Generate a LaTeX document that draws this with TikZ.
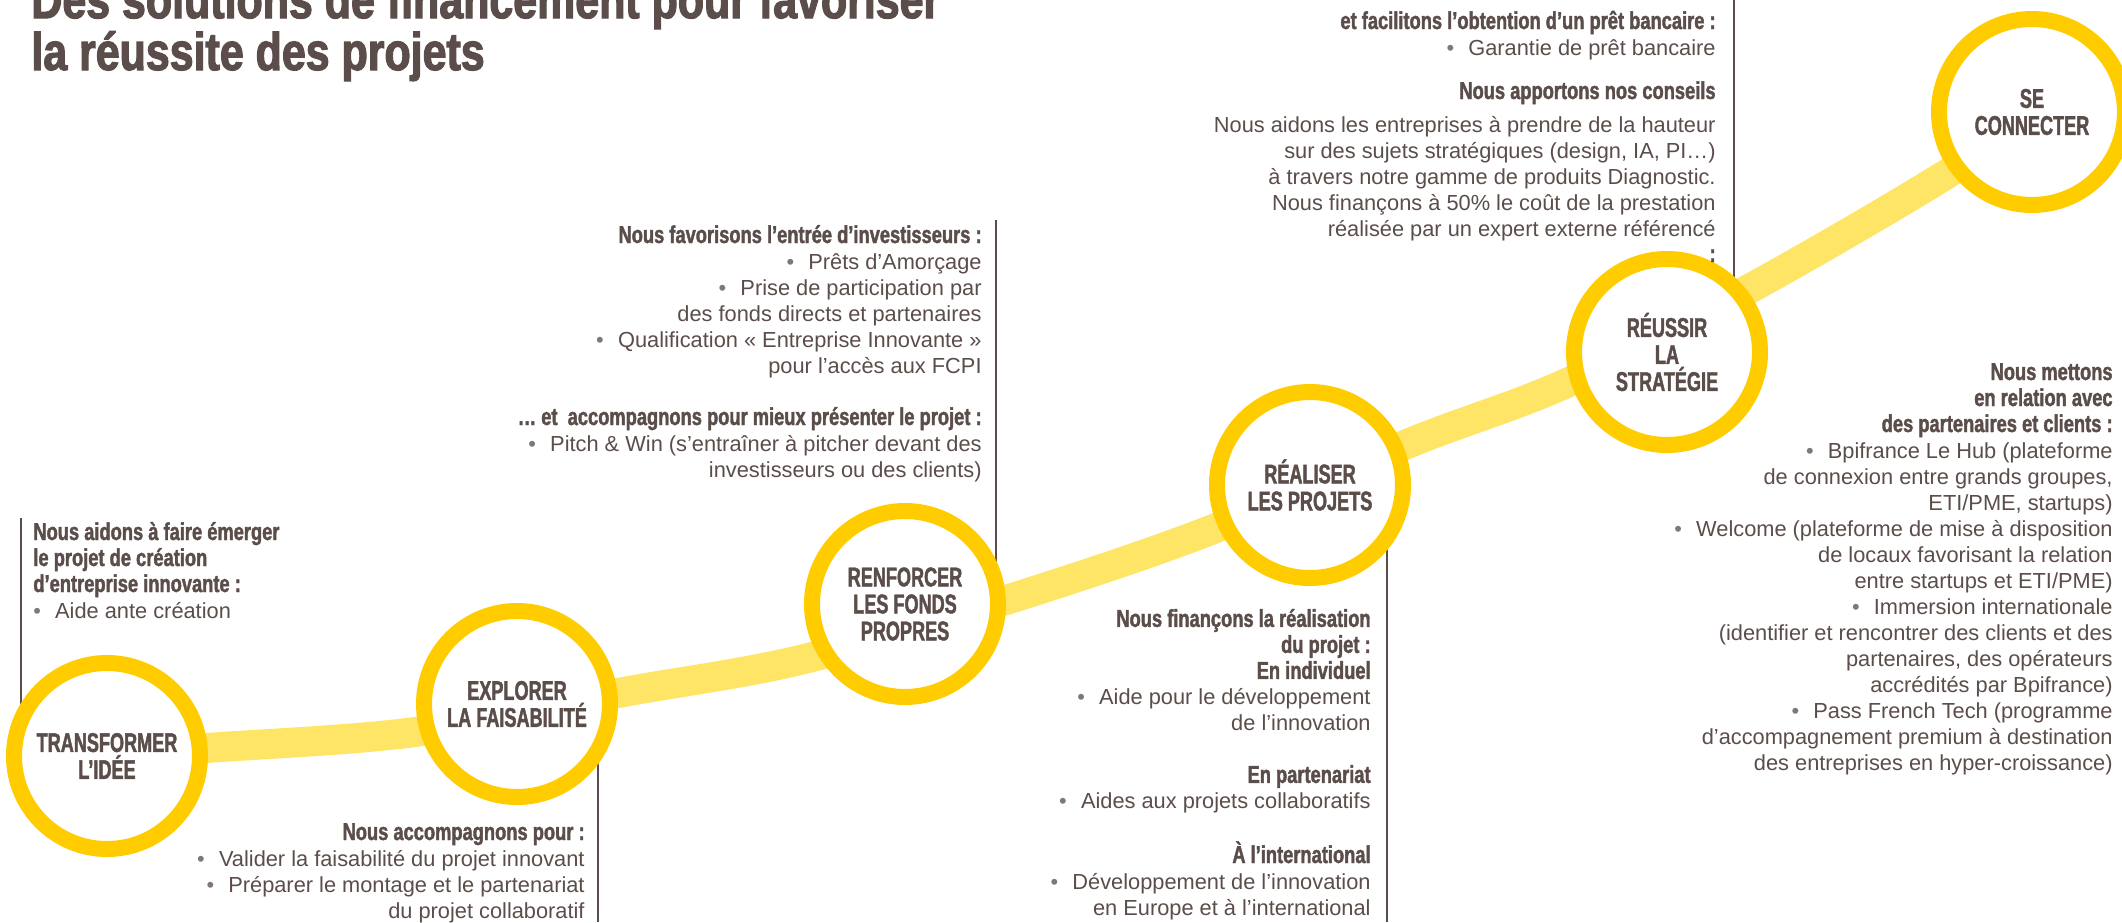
\documentclass[tikz,border=0pt]{standalone}
\usepackage{fontspec}
\setmainfont{Liberation Sans}
\newfontfamily\hdfam[FakeStretch=0.75,FakeBold=1.6]{Liberation Sans}
\newfontfamily\cirfam[FakeStretch=0.67,FakeBold=1.6]{Liberation Sans}
\newfontfamily\ttlfam[FakeStretch=0.81,FakeBold=2.2]{Liberation Sans}
\usetikzlibrary{backgrounds}
\definecolor{ringyellow}{HTML}{FFCC00}
\definecolor{roadyellow}{HTML}{FFE566}
\definecolor{txt}{HTML}{5B4E4A}
\definecolor{bulgray}{HTML}{817876}
\newcommand\hd{\hdfam\bfseries\fontsize{12.2}{13}\selectfont}
\newcommand\bd{\rmfamily\mdseries\fontsize{10.9}{13}\selectfont}
\newcommand\cirf{\cirfam\bfseries\fontsize{13.5}{13.5}\selectfont}
\newcommand\ttlf{\ttlfam\bfseries\fontsize{26.5}{24}\selectfont}
\newcommand\bul{{\color{bulgray}\textbullet}\hspace{0.65em}}
\tikzset{
  stage/.style={circle, draw=ringyellow, line width=8pt, fill=white,
    minimum size=93pt, inner sep=0pt, align=center, font=\cirf, text=txt},
  blockr/.style={anchor=base east, align=right, inner sep=0pt, font=\bd, text=txt},
  blockl/.style={anchor=base west, align=left, inner sep=0pt, font=\bd, text=txt},
  road/.style={draw=roadyellow, line width=15pt},
  rule/.style={draw=txt, line width=0.9pt},
  titletext/.style={anchor=base west, align=left, inner sep=0pt, font=\ttlf, text=txt}
}
\begin{document}
\begin{tikzpicture}[x=0.5pt,y=-0.5pt]
\useasboundingbox (0,0) rectangle (2122,922);
% stages
\node[stage] (t) at (107,756) {TRANSFORMER\\L’IDÉE};
\node[stage] (e) at (517,704) {EXPLORER\\LA FAISABILITÉ};
\node[stage] (r) at (905,604) {RENFORCER\\LES FONDS\\PROPRES};
\node[stage] (p) at (1310,485) {RÉALISER\\LES PROJETS};
\node[stage] (u) at (1667,352) {RÉUSSIR\\LA\\STRATÉGIE};
\node[stage] (s) at (2032,112) {SE\\CONNECTER};
% road waypoints and rule ends
\coordinate (w1) at (207,748);
\coordinate (w2) at (415,732);
\coordinate (w3) at (618,693);
\coordinate (w4) at (800,660);
\coordinate (w5) at (1006,600);
\coordinate (w6) at (1211,530);
\coordinate (w7) at (1407,444);
\coordinate (w8) at (1569,382);
\coordinate (w9) at (1760,283);
\coordinate (w10) at (1950,172);
\coordinate (ca) at (1734,0);
\coordinate (cb) at (996,220);
\coordinate (cc) at (21,518);
\coordinate (cd) at (598,922);
\coordinate (ce) at (1387,922);
\begin{pgfonlayer}{background}
  \fill[white] (0,0) rectangle (2122,922);
  \draw[road] plot[smooth, tension=0.55] coordinates {(t.center) (w1) (w2) (w3) (w4) (w5) (w6) (w7) (w8) (w9) (w10) (s.center)};
  \draw[rule] (ca) -- (ca |- u.center);
  \draw[rule] (cb) -- (cb |- r.center);
  \draw[rule] (cc) -- (cc |- t.center);
  \draw[rule] (cd) -- (cd |- e.center);
  \draw[rule] (ce) -- (ce |- p.center);
\end{pgfonlayer}
% title (anchor = baseline of last line)
\node[titletext] (ttl) at (31,70) {Des solutions de financement pour favoriser\\la réussite des projets};
% text blocks (anchor = baseline of last line)
\node[blockr] (ba) at (1716,262) {{\hd et facilitons l’obtention d’un prêt bancaire :}\\
\bul Garantie de prêt bancaire\\[9pt]
{\hd Nous apportons nos conseils}\\[3.5pt]
Nous aidons les entreprises à prendre de la hauteur\\
sur des sujets stratégiques (design, IA, PI…)\\
à travers notre gamme de produits Diagnostic.\\
Nous finançons à 50\% le coût de la prestation\\
réalisée par un expert externe référencé\\
{\hd :}};
\node[blockr] (bb) at (982,477) {{\hd Nous favorisons l’entrée d’investisseurs :}\\
\bul Prêts d’Amorçage\\
\bul Prise de participation par\\
des fonds directs et partenaires\\
\bul Qualification « Entreprise Innovante »\\
pour l’accès aux FCPI\\[13pt]
{\hd … et\ \ accompagnons pour mieux présenter le projet :}\\
\bul Pitch \& Win (s’entraîner à pitcher devant des\\
investisseurs ou des clients)};
\node[blockl] (bc) at (33,618) {{\hd Nous aidons à faire émerger}\\
{\hd le projet de création}\\
{\hd d’entreprise innovante :}\\
\bul Aide ante création};
\node[blockr] (bd) at (585,918) {{\hd Nous accompagnons pour :}\\
\bul Valider la faisabilité du projet innovant\\
\bul Préparer le montage et le partenariat\\
du projet collaboratif};
\node[blockr] (be) at (1371,915) {{\hd Nous finançons la réalisation}\\
{\hd du projet :}\\
{\hd En individuel}\\
\bul Aide pour le développement\\
de l’innovation\\[13pt]
{\hd En partenariat}\\
\bul Aides aux projets collaboratifs\\[13pt]
{\hd À l’international}\\
\bul Développement de l’innovation\\
en Europe et à l’international};
\node[blockr] (bf) at (2113,770) {{\hd Nous mettons}\\
{\hd en relation avec}\\
{\hd des partenaires et clients :}\\
\bul Bpifrance Le Hub (plateforme\\
de connexion entre grands groupes,\\
ETI/PME, startups)\\
\bul Welcome (plateforme de mise à disposition\\
de locaux favorisant la relation\\
entre startups et ETI/PME)\\
\bul Immersion internationale\\
(identifier et rencontrer des clients et des\\
partenaires, des opérateurs\\
accrédités par Bpifrance)\\
\bul Pass French Tech (programme\\
d’accompagnement premium à destination\\
des entreprises en hyper-croissance)};
\end{tikzpicture}
\end{document}
